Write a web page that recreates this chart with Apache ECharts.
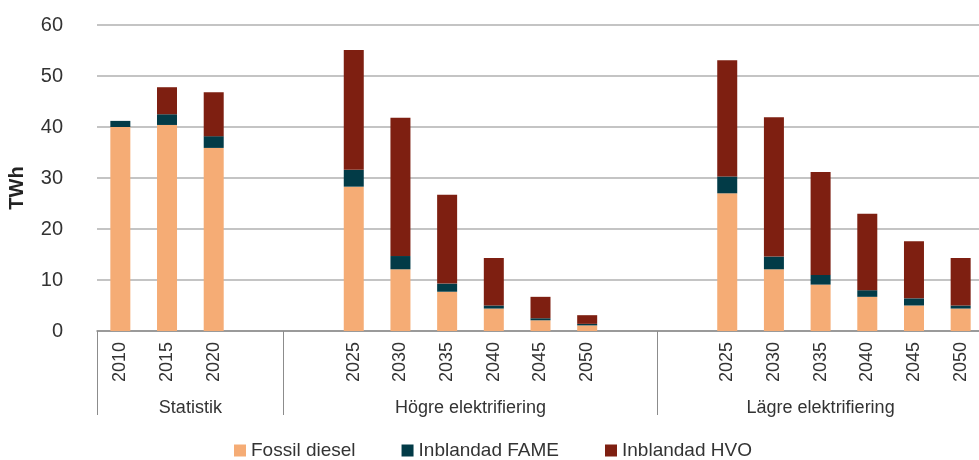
<!DOCTYPE html>
<html>
<head>
<meta charset="utf-8">
<script src="https://cdn.jsdelivr.net/npm/echarts@6/dist/echarts.min.js"></script>
<style>
  html, body { margin: 0; padding: 0; background: #fff; }
  #chart { width: 979px; height: 460px; }
</style>
</head>
<body>
<div id="chart"></div>
<script>
// kategorier (tomma platser = mellanrum mellan grupperna)
var years = ['2010', '2015', '2020', '', '',
  '2025', '2030', '2035', '2040', '2045', '2050', '', '',
  '2025', '2030', '2035', '2040', '2045', '2050'];

var groupNames = ['Statistik', 'Högre elektrifiering', 'Lägre elektrifiering'];
var groupBounds = [0, 4, 12, 19];   // gränser i kategoriplatser
var groupCenters = [2, 8, 15.5];

// TWh per segment
var fossil = [40.0, 40.4, 35.9, null, null,
  28.3, 12.1, 7.7, 4.4, 2.1, 1.1, null, null,
  27.0, 12.1, 9.1, 6.7, 5.0, 4.4];
var fame = [1.2, 2.1, 2.3, null, null,
  3.3, 2.6, 1.6, 0.6, 0.4, 0.3, null, null,
  3.3, 2.5, 1.9, 1.3, 1.4, 0.6];
var hvo = [0, 5.3, 8.6, null, null,
  23.5, 27.1, 17.4, 9.3, 4.2, 1.7, null, null,
  22.8, 27.3, 20.2, 15.0, 11.2, 9.3];

var yTicks = [0, 10, 20, 30, 40, 50, 60];

var font = "'Liberation Sans', Arial, sans-serif";
var textColor = '#333';

var chart = echarts.init(document.getElementById('chart'));
var option = {
  animation: false,
  textStyle: { fontFamily: font },
  color: ['#F5AC75', '#023B47', '#7E1F11'],
  grid: { left: 97, top: 25, width: 887, height: 306, outerBoundsMode: 'none', containLabel: false },
  legend: {
    left: 232,
    top: 439,
    padding: 2,
    itemWidth: 12,
    itemHeight: 12,
    itemGap: 46,
    icon: 'rect',
    textStyle: { fontSize: 19, color: textColor, fontFamily: font }
  },
  xAxis: [
    {
      type: 'category',
      data: years,
      axisLine: { lineStyle: { color: '#8c8c8c', width: 1.5 } },
      axisTick: { show: false },
      axisLabel: { rotate: 90, fontSize: 18, color: textColor, margin: 11, interval: 0 }
    },
    {
      type: 'value',
      min: 0,
      max: 19,
      position: 'bottom',
      axisLine: { show: false },
      splitLine: { show: false },
      axisTick: {
        show: true,
        inside: false,
        length: 84,
        customValues: groupBounds,
        lineStyle: { color: '#8c8c8c', width: 1 }
      },
      axisLabel: {
        customValues: groupCenters,
        margin: 68,
        fontSize: 18,
        color: textColor,
        formatter: function (v) {
          return groupNames[groupCenters.indexOf(v)];
        }
      }
    }
  ],
  yAxis: {
    type: 'value',
    min: yTicks[0],
    max: yTicks[yTicks.length - 1],
    interval: 10,
    name: 'TWh',
    nameLocation: 'middle',
    nameGap: 70,
    nameTextStyle: { fontSize: 20, fontWeight: 'bold', color: '#222', padding: [0, 20, 0, 0] },
    axisLine: { show: false },
    axisTick: { show: false },
    axisLabel: { fontSize: 20, color: textColor, margin: 34 },
    splitLine: { lineStyle: { color: '#b0b0b0', width: 1.5 } }
  },
  series: [
    { name: 'Fossil diesel', type: 'bar', stack: 'tot', barWidth: 20, data: fossil },
    { name: 'Inblandad FAME', type: 'bar', stack: 'tot', barWidth: 20, data: fame },
    { name: 'Inblandad HVO', type: 'bar', stack: 'tot', barWidth: 20, data: hvo }
  ]
};
chart.setOption(option);
</script>
</body>
</html>
